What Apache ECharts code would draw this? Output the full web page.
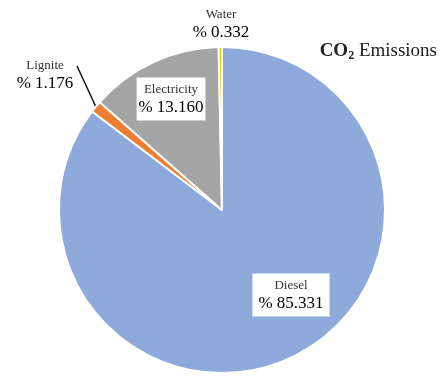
<!DOCTYPE html>
<html>
<head>
<meta charset="utf-8">
<script src="https://cdn.jsdelivr.net/npm/echarts@6/dist/echarts.min.js"></script>
<style>
  html, body { margin: 0; padding: 0; background: #fff; }
  #chart { width: 446px; height: 376px; }
</style>
</head>
<body>
<div id="chart"></div>
<script>
const sources = ["Diesel", "Lignite", "Electricity", "Water"];
const shares = [85.331, 1.176, 13.16, 0.332];
const shareLabels = ["85.331", "1.176", "13.160", "0.332"];

const colors = ["#8eaadb", "#ed7d31", "#a5a5a5", "#ffc000"];
// label centres in pixels, by slice
const labelSpots = [[291, 295], [45, 75], [171, 99], [221, 24]];
const boxed = [true, false, true, false];
// upper end of the lignite leader line
const leaderTop = [77, 66];

const chart = echarts.init(document.getElementById("chart"));

const option = {
    backgroundColor: "#fff",
    animation: false,
    title: {
        text: "{b|CO}{sub|2}{n| Emissions}",
        right: 4,
        top: 35,
        textStyle: {
            rich: {
                b: { fontFamily: "Liberation Serif", fontSize: 19, fontWeight: "bold", color: "#222" },
                sub: { fontFamily: "Liberation Serif", fontSize: 12, fontWeight: "bold", color: "#222", verticalAlign: "bottom", padding: [10, 0, 0, 0] },
                n: { fontFamily: "Liberation Serif", fontSize: 19, fontWeight: "normal", color: "#222" },
            },
        },
    },
    series: [
        {
            type: "pie",
            radius: 163,
            center: [222, 210],
            startAngle: 90,
            clockwise: true,
            itemStyle: { borderColor: "#fff", borderWidth: 2 },
            label: {
                show: true,
                position: "outside",
                overflow: "none",
                formatter: (p) => "{n|" + p.name + "}\n{v|% " + shareLabels[p.dataIndex] + "}",
                rich: {
                    n: { fontFamily: "Liberation Serif", fontSize: 13, color: "#333", align: "center", lineHeight: 17 },
                    v: { fontFamily: "Liberation Serif", fontSize: 17, color: "#000", align: "center", lineHeight: 19 },
                },
            },
            labelLine: { show: false, lineStyle: { color: "#111", width: 1.5 } },
            labelLayout: (p) => {
                const out = {
                    x: labelSpots[p.dataIndex][0],
                    y: labelSpots[p.dataIndex][1],
                    align: "center",
                    verticalAlign: "middle",
                };
                if (sources[p.dataIndex] === "Lignite" && p.labelLinePoints) {
                    out.labelLinePoints = [p.labelLinePoints[0], leaderTop];
                }
                return out;
            },
            data: sources.map((name, i) => ({
                name: name,
                value: shares[i],
                itemStyle: { color: colors[i] },
                label: boxed[i] ? { backgroundColor: "#fff", padding: [4, 6, 3, 6] } : {},
                labelLine: { show: name === "Lignite" },
            })),
        },
    ],
};

chart.setOption(option);
</script>
</body>
</html>
